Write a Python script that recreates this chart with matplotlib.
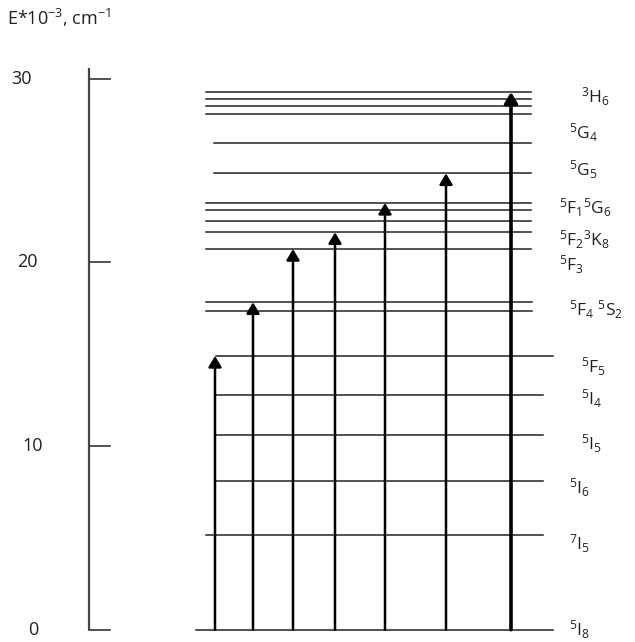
import matplotlib
matplotlib.use("Agg")
import matplotlib.pyplot as plt

plt.rcParams['font.family'] = ['Open Sans', 'DejaVu Sans']
plt.rcParams['mathtext.default'] = 'regular'

# ---- data (energies in 10^3 cm^-1) ----
level_energies = [0, 5.15, 8.09, 10.6, 12.75, 14.9, 17.37, 17.82, 20.72, 21.63,
                  22.26, 22.85, 23.23, 24.84, 26.48, 28.07, 28.52, 28.87, 29.27]
transition_targets = [14.9, 17.82, 20.72, 21.63, 23.23, 24.84, 29.27]
term_labels = [r'$^3$H$_6$', r'$^5$G$_4$', r'$^5$G$_5$', r'$^5$F$_1$$^5$G$_6$',
               r'$^5$F$_2$$^3$K$_8$', r'$^5$F$_3$', r'$^5$F$_4$ $^5$S$_2$',
               r'$^5$F$_5$', r'$^5$I$_4$', r'$^5$I$_5$', r'$^5$I$_6$',
               r'$^7$I$_5$', r'$^5$I$_8$']
term_label_energy = [29.0, 27.04, 25.03, 22.96, 21.21, 19.85, 17.4,
                     14.3, 12.6, 10.1, 7.71, 4.67, 0.0]
y_ticks = [0, 10, 20, 30]
y_tick_labels = ['0', '10', '20', '30']

# ---- layout / style (positions in figure-pixel-like x units) ----
level_x = [(196, 553), (206, 543), (216, 543), (216, 543), (216, 543), (216, 553),
           (206, 532), (206, 532), (206, 531), (206, 531), (206, 531), (206, 531),
           (206, 531), (214, 531), (214, 531), (206, 531), (206, 531), (206, 531),
           (206, 531)]
arrow_x = [215, 253, 293, 335, 385, 446, 511]
arrow_lw = [1.8, 1.8, 1.8, 1.8, 1.8, 1.8, 2.6]
label_x = [581, 569, 569, 559, 559, 559, 569, 581, 581, 581, 569, 569, 569]
tick_label_x = [33, 33, 27, 21]

fig = plt.figure(figsize=(6.35, 6.42), dpi=100)
ax = fig.add_axes([0, 0, 1, 1])
ax.set_xlim(0, 635)
px_per_unit = 18.37
ax.set_ylim((629.7 - 642) / px_per_unit, 629.7 / px_per_unit)
ax.axis('off')

txt_color = '#20202a'

# axis
ax.plot([89, 89], [0, 30.57], color='#444444', lw=1.6, solid_capstyle='butt')
for t, lab, tx in zip(y_ticks, y_tick_labels, tick_label_x):
    ax.plot([89, 110], [t, t], color='#444444', lw=1.3)
    ax.text(tx, t, lab, ha='center', va='center', fontsize=13, color=txt_color)

ax.text(7, 33.3, r'E*10$^{-3}$, cm$^{-1}$', ha='left', va='center',
        fontsize=13, color=txt_color)

# levels
for e, (x0, x1) in zip(level_energies, level_x):
    ax.plot([x0, x1], [e, e], color='#222222', lw=1.1)

# transitions
for x, e, lw in zip(arrow_x, transition_targets, arrow_lw):
    ax.annotate('', xy=(x, e), xytext=(x, 0),
                arrowprops=dict(arrowstyle='-|>,head_length=0.5,head_width=0.3',
                                color='black', lw=lw, shrinkA=0, shrinkB=0,
                                mutation_scale=13))

# term labels
for lab, e, x in zip(term_labels, term_label_energy, label_x):
    ax.text(x, e, lab, ha='left', va='center', fontsize=12.5, color=txt_color)

fig.savefig('out.png', dpi=100)
